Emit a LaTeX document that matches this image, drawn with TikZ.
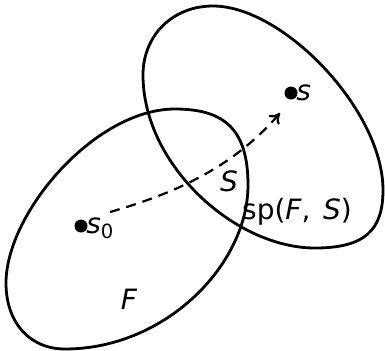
\documentclass[tikz,border=0pt]{standalone}
\usepackage{fontspec}
\setmainfont{DejaVu Sans}
\usetikzlibrary{arrows.meta}
\tikzset{
  blob/.style={line width=1.4pt},
  lbl/.style={inner sep=0pt, font=\fontsize{14}{16}\selectfont},
  dotn/.style={circle, fill=black, inner sep=0pt, minimum size=6.5pt},
  path/.style={dash pattern=on 5pt off 3.5pt, line width=1.1pt, -{To[length=5pt,width=7pt]}}
}
\begin{document}
\begin{tikzpicture}[x=0.5pt,y=-0.5pt]
\useasboundingbox (0,0) rectangle (385,350);
% F region
\draw[blob] (175,109) .. controls (225,109) and (248,130) .. (248,185)
  .. controls (248,265) and (165,349) .. (65,349)
  .. controls (30,349) and (6,323) .. (6,283)
  .. controls (6,213) and (95,109) .. (175,109) -- cycle;
% sp(F,S) region
\draw[blob] (213,6) .. controls (283,6) and (383,110) .. (383,190)
  .. controls (383,230) and (365,248) .. (315,248)
  .. controls (235,248) and (143,165) .. (143,75)
  .. controls (143,35) and (173,6) .. (213,6) -- cycle;
\node[dotn] (s0) at (81,226) {};
\node[dotn] (s) at (291,93) {};
\node[lbl, anchor=west] (s0l) at (86,228) {\textit{s}\textsubscript{0}};
\node[lbl, anchor=west] (sl) at (296,93) {\textit{s}};
\coordinate (start) at (110,212);
\coordinate (tip) at (280,113);
\draw[path] (start) .. controls (180,192) and (235,165) .. (tip);
\node[lbl] (S) at (229,181) {\textit{S}};
\node[lbl] (sp) at (297,212) {sp(\textit{F},\hspace{0.45em}\textit{S})};
\node[lbl] (F) at (129,299) {\textit{F}};
\end{tikzpicture}
\end{document}
